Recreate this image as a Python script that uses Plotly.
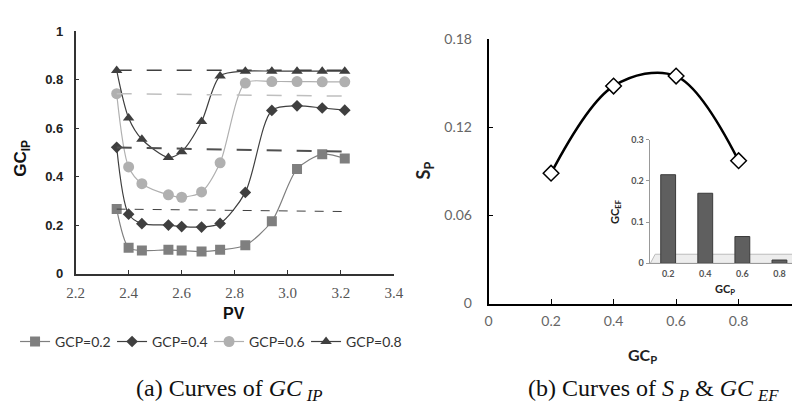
import plotly.graph_objects as go

# ---------------- data: panel (a) ----------------
pv = [2.355, 2.40, 2.45, 2.55, 2.60, 2.675, 2.745, 2.84, 2.94, 3.035, 3.13, 3.215]
gc_02 = [0.267, 0.108, 0.096, 0.099, 0.096, 0.092, 0.099, 0.118, 0.217, 0.432, 0.493, 0.476]
gc_04 = [0.522, 0.246, 0.207, 0.201, 0.195, 0.193, 0.208, 0.336, 0.674, 0.693, 0.684, 0.675]
gc_06 = [0.743, 0.441, 0.372, 0.326, 0.316, 0.338, 0.458, 0.787, 0.793, 0.793, 0.792, 0.792]
gc_08 = [0.839, 0.643, 0.555, 0.480, 0.504, 0.628, 0.816, 0.836, 0.836, 0.836, 0.836, 0.836]
series_names = ["GCP=0.2", "GCP=0.4", "GCP=0.6", "GCP=0.8"]
# reference (dashed) lines: start / end values
ref_x = [2.355, 3.215]
ref_02 = [0.267, 0.257]
ref_04 = [0.521, 0.504]
ref_06 = [0.743, 0.733]
ref_08 = [0.840, 0.840]
x_ticks_a = [2.2, 2.4, 2.6, 2.8, 3.0, 3.2, 3.4]
x_ticklabels_a = ["2.2", "2.4", "2.6", "2.8", "3.0", "3.2", "3.4"]
y_ticks_a = [0, 0.2, 0.4, 0.6, 0.8, 1]
y_ticklabels_a = ["0", "0.2", "0.4", "0.6", "0.8", "1"]

# ---------------- data: panel (b) ----------------
gcp = [0.2, 0.4, 0.6, 0.8]
sp = [0.0887, 0.148, 0.1548, 0.0972]
y_ticks_b = [0, 0.06, 0.12, 0.18]
x_ticks_b = [0, 0.2, 0.4, 0.6, 0.8]
# inset
inset_cats = ["0.2", "0.4", "0.6", "0.8"]
gc_ef = [0.215, 0.17, 0.065, 0.008]
inset_yticks = [0, 0.1, 0.2, 0.3]

fig = go.Figure()

# ---- panel (a) curves ----
styles = [
    dict(color="#7f7f7f", symbol="square", size=10, lc="#7f7f7f"),
    dict(color="#3f3f3f", symbol="diamond", size=9, lc="#3f3f3f"),
    dict(color="#b0b0b0", symbol="circle", size=11, lc="#b0b0b0"),
    dict(color="#3f3f3f", symbol="triangle-up", size=10, lc="#3f3f3f"),
]
for name, vals, st in zip(series_names, [gc_02, gc_04, gc_06, gc_08], styles):
    fig.add_trace(go.Scatter(
        x=pv, y=vals, name=name, mode="lines+markers",
        line=dict(color=st["lc"], width=1.2, shape="spline", smoothing=0.8),
        marker=dict(color=st["color"], symbol=st["symbol"], size=st["size"]),
        xaxis="x", yaxis="y"))

ref_styles = [
    dict(color="#404040", dash="dash", width=1),
    dict(color="#505050", dash="longdash", width=2),
    dict(color="#bfbfbf", dash="longdash", width=1.5),
    dict(color="#404040", dash="longdash", width=1.5),
]
for vals, st in zip([ref_02, ref_04, ref_06, ref_08], ref_styles):
    fig.add_trace(go.Scatter(x=ref_x, y=vals, mode="lines", showlegend=False,
                             line=st, xaxis="x", yaxis="y", hoverinfo="skip"))

# ---- panel (b) main curve ----
fig.add_trace(go.Scatter(
    x=gcp, y=sp, mode="lines+markers", showlegend=False,
    line=dict(color="black", width=2.5, shape="spline", smoothing=1.0),
    marker=dict(symbol="diamond", size=12, color="white", line=dict(color="black", width=1.5)),
    xaxis="x2", yaxis="y2"))

# ---- inset bars ----
fig.add_trace(go.Bar(
    x=inset_cats, y=gc_ef, showlegend=False, width=0.4,
    marker=dict(color="#5f5f5f", line=dict(color="#3a3a3a", width=1)),
    xaxis="x3", yaxis="y3"))

W, H = 800, 409
def fx(px): return px / W
def fy(py): return 1 - py / H

axis_common = dict(showgrid=False, zeroline=False, showline=True, mirror=False)

fig.update_layout(
    width=W, height=H,
    margin=dict(l=0, r=0, t=0, b=0),
    paper_bgcolor="white", plot_bgcolor="rgba(0,0,0,0)",
    font=dict(family="Liberation Sans", size=12, color="#333333"),
    xaxis=dict(**axis_common, domain=[fx(60), fx(386)], range=[2.2, 3.4],
               tickvals=x_ticks_a, ticktext=x_ticklabels_a,
               ticks="inside", ticklen=4, tickcolor="#333",
               linecolor="#333333", linewidth=1.5,
               tickfont=dict(family="Liberation Serif", size=15, color="#555555"),
               ticklabelstandoff=4, anchor="y"),
    yaxis=dict(**axis_common, domain=[fy(268), fy(15)], range=[0, 1],
               tickvals=y_ticks_a, ticktext=y_ticklabels_a,
               ticks="inside", ticklen=4, tickcolor="#333",
               linecolor="#333333", linewidth=1.5,
               tickfont=dict(family="Liberation Sans", size=13, color="#222222", weight="bold"),
               ticklabelstandoff=8, anchor="x"),
    xaxis2=dict(**axis_common, domain=[fx(483), 1.0], range=[0, 0.99],
                tickvals=x_ticks_b, ticktext=["0", "0.2", "0.4", "0.6", "0.8"],
                ticks="inside", ticklen=5, tickcolor="black",
                linecolor="black", linewidth=1.5,
                tickfont=dict(family="Lato", size=14, color="#666666"),
                ticklabelstandoff=4, anchor="y2"),
    yaxis2=dict(**axis_common, domain=[fy(299), fy(23)], range=[0, 0.18],
                tickvals=y_ticks_b, ticktext=["0", "0.06", "0.12", "0.18"],
                ticks="inside", ticklen=5, tickcolor="black",
                linecolor="black", linewidth=1.5,
                tickfont=dict(family="Lato", size=14, color="#666666"),
                ticklabelstandoff=12, anchor="x2"),
    xaxis3=dict(**axis_common, domain=[fx(648), 1.0], range=[-0.5, 3.5],
                type="category", ticks="", linecolor="#999999", linewidth=1,
                tickfont=dict(family="Lato", size=9, color="#555555", weight="bold"),
                ticklabelstandoff=2, anchor="y3"),
    yaxis3=dict(**axis_common, domain=[fy(257), fy(128)], range=[0, 0.3],
                tickvals=inset_yticks, ticktext=["0", "0.1", "0.2", "0.3"],
                ticks="outside", ticklen=3, tickcolor="#999999",
                linecolor="#999999", linewidth=1,
                tickfont=dict(family="Lato", size=9, color="#555555", weight="bold"),
                anchor="x3"),
    legend=dict(orientation="h", x=fx(-2), y=fy(339), xanchor="left", yanchor="middle",
                font=dict(family="Lato", size=14, color="#333333"),
                entrywidth=52, entrywidthmode="pixels", itemwidth=30,
                bgcolor="rgba(0,0,0,0)", tracegroupgap=0),
    barmode="overlay",
)

# inset floor (3D base plane look)
fig.add_shape(type="path", xref="x3", yref="y3",
              path="M -0.48 0 L 3.5 0 L 3.5 0.022 L -0.35 0.022 Z",
              fillcolor="rgba(225,225,225,0.6)", line=dict(color="#bbbbbb", width=1), layer="below")

ann = []
ann.append(dict(text="<b>GC<sub>IP</sub></b>", x=fx(5), y=fy(147), textangle=-90,
                font=dict(family="Liberation Sans", size=17, color="#111")))
ann.append(dict(text="<b>PV</b>", x=fx(222), y=fy(309),
                font=dict(family="Liberation Sans", size=16, color="#111")))
ann.append(dict(text="(a) Curves of <i>GC</i>\u2009<i><sub>IP</sub></i>", x=fx(218), y=fy(389),
                font=dict(family="Liberation Serif", size=24, color="#111")))
ann.append(dict(text="<b>S<sub>P</sub></b>", x=fx(417), y=fy(160), textangle=-90,
                font=dict(family="Lato", size=18, color="#222")))
ann.append(dict(text="<b>GC<sub>P</sub></b>", x=fx(641), y=fy(353),
                font=dict(family="Lato", size=16, color="#222")))
ann.append(dict(text="(b) Curves of <i>S</i>\u2009<i><sub>P</sub></i> &amp; <i>GC</i>\u2009<i><sub>EF</sub></i>", x=fx(652), y=fy(389),
                font=dict(family="Liberation Serif", size=24, color="#111")))
ann.append(dict(text="<b>GC<sub>EF</sub></b>", x=fx(613), y=fy(203), textangle=-90,
                font=dict(family="Lato", size=11, color="#222")))
ann.append(dict(text="<b>GC<sub>P</sub></b>", x=fx(725), y=fy(284),
                font=dict(family="Lato", size=11, color="#222")))
for a in ann:
    a.update(xref="paper", yref="paper", showarrow=False, xanchor="center", yanchor="middle")
fig.update_layout(annotations=ann)

fig.write_html("out.html")
